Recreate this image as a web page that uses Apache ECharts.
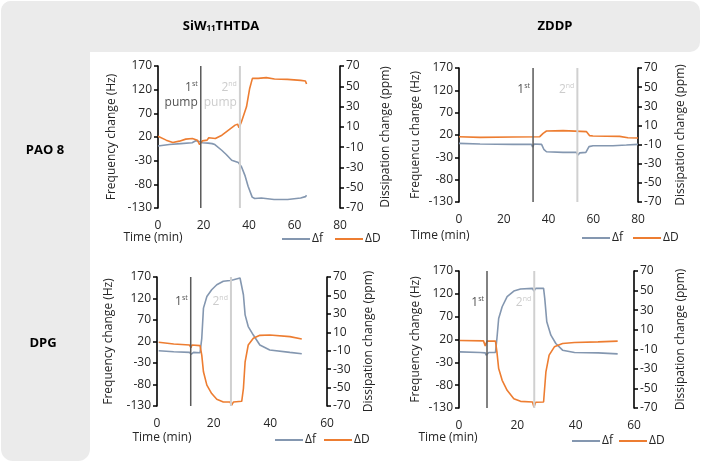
<!DOCTYPE html>
<html><head><meta charset="utf-8">
<script src="https://cdn.jsdelivr.net/npm/echarts@6/dist/echarts.min.js"></script>
<style>html,body{margin:0;padding:0;background:#fff}#c{width:702px;height:466px}</style>
</head><body><div id="c"></div>
<script>
// ---------- data ----------
const freqTicks = [-130, -80, -30, 20, 70, 120, 170];
const dissTicks = [-70, -50, -30, -10, 10, 30, 50, 70];
const columnHeaders = ['SiW{sub|11}THTDA', 'ZDDP'];
const rowHeaders = ['PAO 8', 'DPG'];
const seriesNames = ['Δf', 'ΔD'];
const freqTitles = ['Frequency change (Hz)', 'Frequencu change (Hz)', 'Frequency change (Hz)', 'Frequency change (Hz)'];
const dissTitle = 'Dissipation change (ppm)';
const timeTitle = 'Time (min)';
const timeMax = [80, 80, 60, 60];

// Panel 1: PAO 8 / SiW11THTDA
const p1FreqTime = [0, 5, 10, 15, 16.6, 18.5, 19.5, 22, 23.8, 25, 28, 30, 32.4, 35.3, 36.7, 38.2, 39.6, 40.3, 41.4, 42.5, 45.4, 51, 57, 62.7, 64.8, 65.3];
const p1Freq = [1, 4, 6, 8, 12, 10, 8, 7, 6, 4, -8, -17, -29, -34, -43, -61, -84, -88, -107, -110, -109, -112, -112, -109, -106, -103];
const p1DissTime = [0, 3.6, 6.5, 9.4, 12.2, 15.1, 17.3, 18.3, 19.5, 21.6, 22.3, 25.2, 28.1, 31, 33.9, 35, 35.6, 36.7, 38.9, 40.3, 41.5, 44, 47.6, 51.2, 56.9, 62.7, 64.8, 65.3];
const p1Diss = [0.8, -3.1, -5.4, -4.1, -2.1, -1.5, -3.1, -7.4, -3.8, -3.1, -0.8, -1.5, 1.8, 6.8, 11.7, 12.7, 9.1, 15, 29.8, 47.9, 57.8, 57.8, 58.5, 57.2, 56.8, 55.8, 55.2, 52.2];
const p1Pumps = [18.8, 36];

// Panel 2: PAO 8 / ZDDP
const p2FreqTime = [0, 9.4, 24.2, 32.4, 32.9, 33.5, 36.9, 37.9, 39.1, 46.5, 52.5, 53.2, 54, 56.7, 58.1, 59.9, 68.8, 74.8, 80];
const p2Freq = [1.2, -0.3, -1, -1, -7, -0.3, -1, -12, -17.5, -19, -19, -25, -20, -19, -6, -4, -4, -2.5, -1];
const p2DissTime = [0, 9.4, 24.2, 36.1, 37.6, 39.1, 46.5, 57, 58.4, 59.9, 71.8, 75.5, 80];
const p2Diss = [-1.75, -2.5, -2.1, -1.75, 1.75, 4.2, 4.55, 3.5, -0.7, -1, -1.4, -2.8, -3.15];
const p2Pumps = [33.1, 52.9];

// Panel 3: DPG / SiW11THTDA
const p3FreqTime = [0.6, 5.9, 11.5, 12, 12.9, 15.2, 15.8, 16.4, 17.6, 19.3, 21.1, 23.4, 25.8, 26.3, 27, 29.3, 29.9, 30.5, 31.1, 32.2, 34, 36.3, 39.8, 46.9, 51.1];
const p3Freq = [-1.4, -3.7, -5.3, -10, -5.3, -6, 27.4, 97.6, 124.8, 140.4, 152, 160, 162, 158, 163.8, 167.7, 166, 128.7, 82, 54.7, 35, 11.9, 0.2, -5.3, -8.4];
const p3DissTime = [0.6, 5.9, 11.5, 12, 12.3, 15.2, 15.8, 16.4, 17.6, 19.3, 21.1, 23.4, 25.8, 26.3, 27, 29.9, 30.5, 31.1, 32.2, 34, 36.3, 39.8, 46.9, 51.1];
const p3Diss = [-0.9, -2.7, -3.8, -6.7, -3.8, -4.5, -14.7, -32.9, -47.4, -56.5, -62.7, -65.6, -65.6, -69.3, -65.6, -64.9, -51, -22, -3.8, 3.5, 6.7, 7.1, 5.3, 2.7];
const p3Pumps = [11.9, 26.1];

// Panel 4: DPG / ZDDP
const p4FreqTime = [0.3, 7.3, 9, 9.3, 10.2, 12.5, 13, 13.6, 14.8, 16.5, 18.8, 21.1, 25.2, 25.7, 26.3, 29, 29.4, 30.1, 31.5, 33.2, 35.5, 39.6, 47.7, 54.4];
const p4Freq = [-7, -8.5, -9.3, -14.4, -8.5, -8.5, 22.2, 66, 91.7, 113.7, 126, 130.5, 132, 126, 132, 132, 110, 58.8, 29.5, 11.2, -3.4, -8.5, -9.3, -11.5];
const p4DissTime = [0.3, 8.4, 9, 9.6, 12.5, 13, 13.6, 14.8, 16.5, 18.8, 21.1, 25.2, 25.7, 26.3, 29, 29.8, 30.9, 32.7, 35.5, 39.6, 47.7, 54.4];
const p4Diss = [-1, -1.4, -6.5, -1.7, -1.7, -12.6, -29.7, -41.7, -51.9, -60.5, -63.2, -63.9, -69, -64.2, -63.9, -33, -16, -7.5, -4.1, -3.1, -2.4, -1.7];
const p4Pumps = [9.6, 25.8];

// ---------- layout / style ----------
const FONT = "'Open Sans', sans-serif";
const TXT = '#262626';
const BLUE = '#8497b0', ORANGE = '#ed7d31';
const panels = [
  {ft: p1FreqTime, f: p1Freq, dt: p1DissTime, d: p1Diss, pumps: p1Pumps, grid: {left: 158, top: 66, width: 182, height: 142}, gapL: 40, gapR: 40, labelY: [108, 108], pumpWord: true, legend: {left: 277, top: 228, gap: 12}, time: [153, 238]},
  {ft: p2FreqTime, f: p2Freq, dt: p2DissTime, d: p2Diss, pumps: p2Pumps, grid: {left: 459, top: 68, width: 179, height: 134}, gapL: 37, gapR: 37, labelY: [121, 121], pumpWord: false, legend: {left: 577, top: 227, gap: 10}, time: [440, 236]},
  {ft: p3FreqTime, f: p3Freq, dt: p3DissTime, d: p3Diss, pumps: p3Pumps, grid: {left: 157, top: 277, width: 170, height: 129}, gapL: 42, gapR: 36, labelY: [112, 112], pumpWord: false, legend: {left: 270, top: 429, gap: 8}, time: [162, 438]},
  {ft: p4FreqTime, f: p4Freq, dt: p4DissTime, d: p4Diss, pumps: p4Pumps, grid: {left: 459, top: 271, width: 175, height: 137}, gapL: 37, gapR: 41, labelY: [100, 100], pumpWord: false, legend: {left: 567, top: 430, gap: 6}, time: [448, 438]}
];

const zip = (a, b) => a.map((v, i) => [v, b[i]]);
const grid = [], xAxis = [], yAxis = [], series = [], legend = [];
const graphic = [
  {type: 'rect', shape: {x: 1, y: 1, width: 699, height: 51, r: [10, 10, 10, 0]}, style: {fill: '#ebebeb'}, z: -5},
  {type: 'rect', shape: {x: 1, y: 1, width: 89, height: 460, r: [10, 0, 12, 12]}, style: {fill: '#ebebeb'}, z: -5},
  {type: 'text', x: 221, y: 26, style: {text: columnHeaders[0], font: 'bold 13px ' + FONT, fill: '#000', align: 'center', verticalAlign: 'middle', rich: {sub: {fontSize: 8, fontWeight: 'bold', fontFamily: FONT, verticalAlign: 'bottom', padding: [6, 0, 0, 0]}}}},
  {type: 'text', x: 555, y: 26, style: {text: columnHeaders[1], font: 'bold 13px ' + FONT, fill: '#000', align: 'center', verticalAlign: 'middle'}},
  {type: 'text', x: 45, y: 150, style: {text: rowHeaders[0], font: 'bold 13px ' + FONT, fill: '#000', align: 'center', verticalAlign: 'middle'}},
  {type: 'text', x: 43, y: 343, style: {text: rowHeaders[1], font: 'bold 13px ' + FONT, fill: '#000', align: 'center', verticalAlign: 'middle'}}
];

const yAxisBase = (gi, pos, ticks, mn, mx, itv, name, gap) => ({
  gridIndex: gi, type: 'value', position: pos, min: mn, max: mx, interval: itv,
  axisLine: {show: true, lineStyle: {color: '#000', width: 1.6}},
  axisTick: {show: true, length: 4, inside: false, customValues: ticks, lineStyle: {color: '#000', width: 1.5}},
  axisLabel: {customValues: ticks, color: TXT, fontSize: 12, fontFamily: FONT, margin: 6},
  splitLine: {show: false},
  name: name, nameLocation: 'middle', nameRotate: 90, nameGap: gap,
  nameTextStyle: {color: TXT, fontSize: 12, fontFamily: FONT}
});

panels.forEach((p, i) => {
  grid.push(Object.assign({containLabel: false}, p.grid));
  xAxis.push({gridIndex: i, type: 'value', min: 0, max: timeMax[i], interval: 20,
    axisLine: {show: false}, axisTick: {show: false}, splitLine: {show: false},
    axisLabel: {color: TXT, fontSize: 12, fontFamily: FONT, margin: 12}});
  yAxis.push(yAxisBase(i, 'left', freqTicks, -130, 170, 50, freqTitles[i], p.gapL));
  yAxis.push(yAxisBase(i, 'right', dissTicks, -70, 70, 20, dissTitle, p.gapR));
  series.push({name: seriesNames[0], type: 'line', xAxisIndex: i, yAxisIndex: 2 * i, data: zip(p.ft, p.f), symbol: 'none', lineStyle: {color: BLUE, width: 1.6}, itemStyle: {color: BLUE}, z: 3});
  series.push({name: seriesNames[1], type: 'line', xAxisIndex: i, yAxisIndex: 2 * i + 1, data: zip(p.dt, p.d), symbol: 'none', lineStyle: {color: ORANGE, width: 1.6}, itemStyle: {color: ORANGE}, z: 3});
  const pumpColors = ['#595959', '#d0d0d0'];
  const pumpText = ['#262626', '#bfbfbf'];
  const ords = ['st', 'nd'];
  p.pumps.forEach((t, k) => {
    series.push({name: 'pump' + k, type: 'line', xAxisIndex: i, yAxisIndex: 2 * i, data: [[t, -130], [t, 170]], symbol: 'none', silent: true, lineStyle: {color: pumpColors[k], width: k ? 2 : 1.5}, z: 4});
    const fmt = '{n|' + (k + 1) + '}{s|' + ords[k] + '}' + (p.pumpWord ? '\n{n|pump}' : '');
    series.push({name: 'pumpLabel' + k, type: 'scatter', xAxisIndex: i, yAxisIndex: 2 * i, data: [[t, p.labelY[k]]], symbolSize: 2, itemStyle: {color: 'rgba(0,0,0,0)'}, silent: true, z: 5,
      label: {show: true, position: 'left', distance: 2, formatter: fmt, color: pumpText[k],
        rich: {n: {fontSize: 12, fontFamily: FONT, color: pumpText[k], lineHeight: 15, align: 'right'},
               s: {fontSize: 7, fontFamily: FONT, color: pumpText[k], verticalAlign: 'top', lineHeight: 15, padding: [0, 0, 5, 0]}}}});
  });
  legend.push({data: seriesNames, left: p.legend.left, top: p.legend.top, orient: 'horizontal', icon: 'rect', itemWidth: 28, itemHeight: 2, itemGap: p.legend.gap, selectedMode: false,
    textStyle: {color: TXT, fontSize: 12, fontFamily: FONT, padding: [0, 0, 0, -3]}});
  graphic.push({type: 'text', x: p.time[0], y: p.time[1], style: {text: timeTitle, font: '12px ' + FONT, fill: TXT, align: 'center', verticalAlign: 'middle'}});
});

const chart = echarts.init(document.getElementById('c'), null, {renderer: 'canvas'});
chart.setOption({animation: false, backgroundColor: '#fff', grid, xAxis, yAxis, series, legend, graphic});
</script></body></html>
